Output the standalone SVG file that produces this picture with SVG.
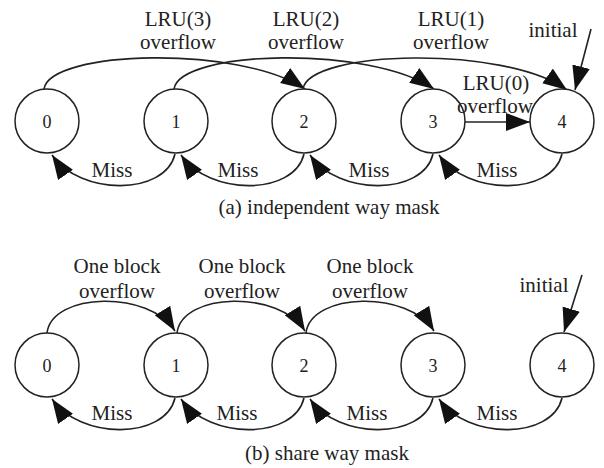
<svg xmlns="http://www.w3.org/2000/svg" width="604" height="468" viewBox="0 0 604 468">
<defs>
<style>
text { font-family: "Liberation Serif", "Times New Roman", serif; font-size: 21px; fill: #222; text-anchor: middle; }
.node circle { fill: #fff; stroke: #222; stroke-width: 1.5; }
.node text { font-size: 18px; }
.edge { fill: none; stroke: #222; stroke-width: 1.6; marker-end: url(#ah); }
</style>
<marker id="ah" markerUnits="userSpaceOnUse" markerWidth="26" markerHeight="20" refX="24" refY="9" orient="auto">
<path d="M0,0 L24,9 L0,18 z" fill="#111"/>
</marker>
</defs>
<rect width="604" height="468" fill="#fff"/>

<g id="connectors">
<!-- (a) overflow arcs -->
<path class="edge" d="M44,89 C50,50 240,45 305,89"/>
<path class="edge" d="M174,89 C180,50 370,45 434,89"/>
<path class="edge" d="M303,89 C309,50 505,45 567,90"/>
<path class="edge" d="M465,122 L530,122"/>
<path class="edge" d="M591,29 L575,90"/>
<!-- (a) miss arcs -->
<path class="edge" d="M175,154 C165,196 80,196 52,155"/>
<path class="edge" d="M304,154 C294,196 209,196 181,155"/>
<path class="edge" d="M433,154 C423,196 338,196 310,155"/>
<path class="edge" d="M562,154 C552,196 467,196 439,155"/>
<!-- (b) overflow arcs -->
<path class="edge" d="M47,333 C52,292 150,290 175,331"/>
<path class="edge" d="M177,333 C182,292 280,290 305,331"/>
<path class="edge" d="M306,333 C311,292 409,290 434,331"/>
<path class="edge" d="M582,275 L564,332"/>
<!-- (b) miss arcs -->
<path class="edge" d="M175,398 C165,440 80,440 52,399"/>
<path class="edge" d="M304,398 C294,440 209,440 181,399"/>
<path class="edge" d="M433,398 C423,440 338,440 310,399"/>
<path class="edge" d="M562,398 C552,440 467,440 439,399"/>
</g>

<g id="a-nodes">
<g id="a0" class="node"><circle cx="47" cy="121" r="32"/><text x="47" y="128">0</text></g>
<g id="a1" class="node"><circle cx="176" cy="121" r="32"/><text x="176" y="128">1</text></g>
<g id="a2" class="node"><circle cx="304" cy="121" r="32"/><text x="304" y="128">2</text></g>
<g id="a3" class="node"><circle cx="433" cy="121" r="32"/><text x="433" y="128">3</text></g>
<g id="a4" class="node"><circle cx="562" cy="121" r="32"/><text x="562" y="128">4</text></g>
</g>

<g id="a-labels">
<text x="178" y="26">LRU(3)</text><text x="178" y="49">overflow</text>
<text x="306" y="26">LRU(2)</text><text x="306" y="49">overflow</text>
<text x="451" y="26">LRU(1)</text><text x="451" y="49">overflow</text>
<text x="553" y="37">initial</text>
<text x="496" y="90">LRU(0)</text><text x="495" y="113">overflow</text>
<text x="112" y="177">Miss</text>
<text x="238" y="177">Miss</text>
<text x="369" y="177">Miss</text>
<text x="497" y="177">Miss</text>
<text x="329" y="214">(a) independent way mask</text>
</g>

<g id="b-nodes">
<g id="b0" class="node"><circle cx="47" cy="365" r="32"/><text x="47" y="372">0</text></g>
<g id="b1" class="node"><circle cx="176" cy="365" r="32"/><text x="176" y="372">1</text></g>
<g id="b2" class="node"><circle cx="304" cy="365" r="32"/><text x="304" y="372">2</text></g>
<g id="b3" class="node"><circle cx="433" cy="365" r="32"/><text x="433" y="372">3</text></g>
<g id="b4" class="node"><circle cx="562" cy="365" r="32"/><text x="562" y="372">4</text></g>
</g>

<g id="b-labels">
<text x="117" y="273">One block</text><text x="117" y="298">overflow</text>
<text x="242" y="273">One block</text><text x="242" y="298">overflow</text>
<text x="370" y="273">One block</text><text x="370" y="298">overflow</text>
<text x="544" y="292">initial</text>
<text x="112" y="420">Miss</text>
<text x="237" y="420">Miss</text>
<text x="367" y="420">Miss</text>
<text x="497" y="420">Miss</text>
<text x="327" y="460">(b) share way mask</text>
</g>
</svg>
